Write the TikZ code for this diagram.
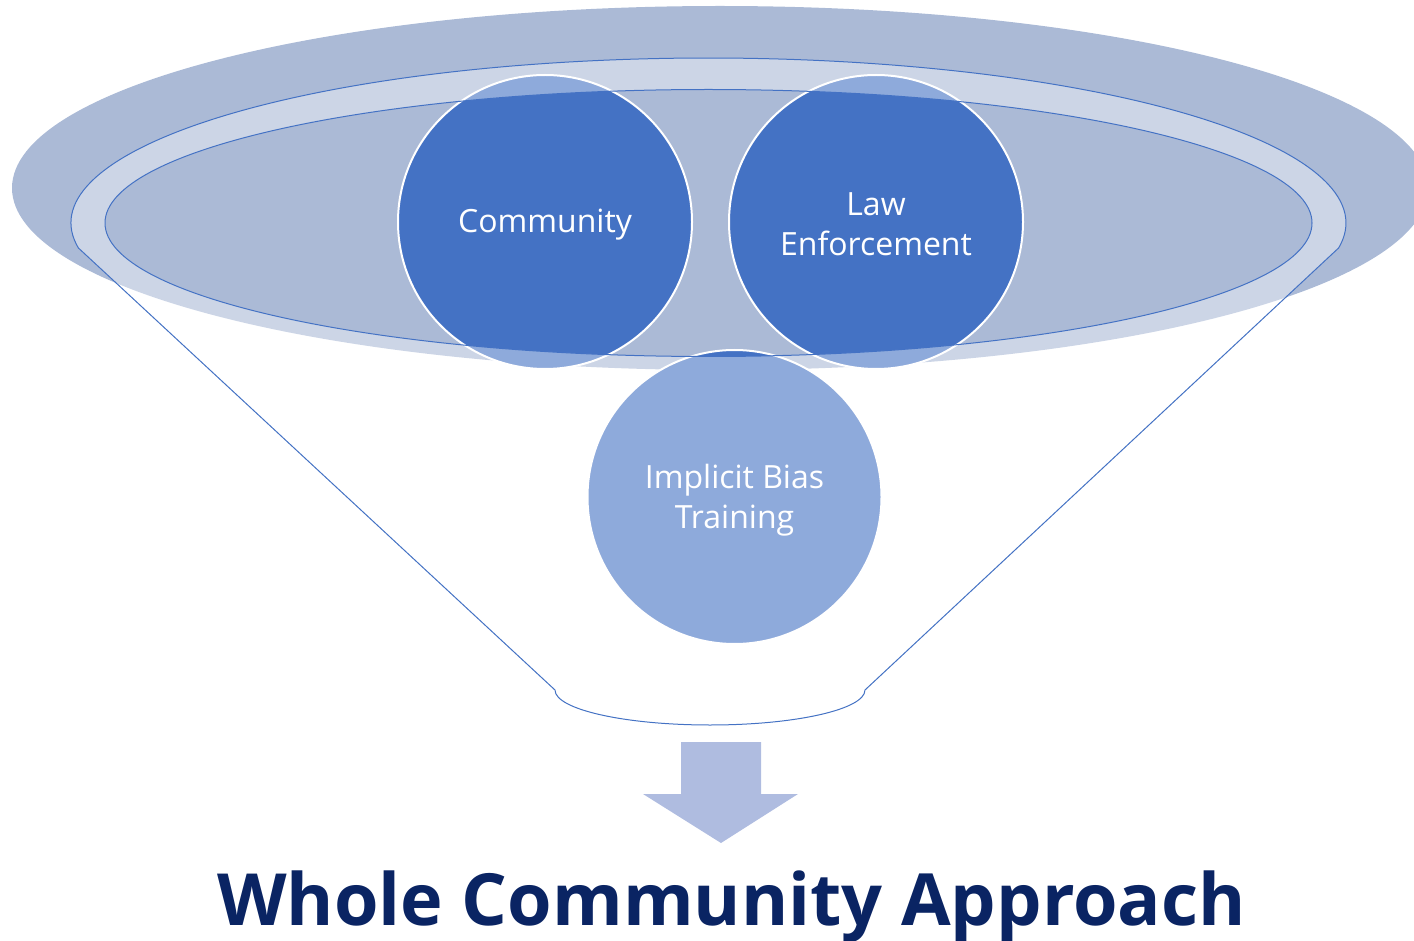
\documentclass[tikz,border=0pt]{standalone}
\usepackage{fontspec}
\setmainfont{Open Sans}
\usetikzlibrary{calc}
\definecolor{bgell}{HTML}{ABBAD6}
\definecolor{accent}{HTML}{4472C4}
\definecolor{arrowc}{HTML}{AFBCE0}
\definecolor{titlec}{HTML}{0A2463}
\begin{document}
\begin{tikzpicture}[x=1pt,y=-1pt,
  bubble/.style={circle, fill=accent, draw=white, line width=2pt, minimum size=294pt,
    inner sep=0pt},
  caption/.style={text=white, align=center, inner sep=0pt, font=\fontsize{32}{40}\selectfont},
  rim/.style={draw=accent, line width=1pt},
  veil/.style={fill=white, fill opacity=0.4, even odd rule},
  downarrow/.style={fill=arrowc}]
\useasboundingbox (0,0) rectangle (1414,941);
% background ellipse
\fill[bgell] (720,188) ellipse [x radius=708, y radius=182];
% circles
\node[bubble] (bias) at (734.5,497) {};
\node[bubble] (comm) at (545,222) {};
\node[bubble] (law) at (876,222) {};
\node[caption] (biastext) at ([yshift=-3pt]bias.center) {Implicit Bias\\Training};
\node[caption] (commtext) at ([yshift=-3pt]comm.center) {Community};
\node[caption] (lawtext) at ([yshift=-2pt]law.center) {Law\\Enforcement};
% funnel geometry
\coordinate (oc) at (708.5,223);
\coordinate (tl) at ($(oc)+(171.3:637.5 and 165)$);
\coordinate (tr) at ($(oc)+(8.7:637.5 and 165)$);
\coordinate (bl) at (555,690);
\coordinate (br) at (865,690);
% translucent funnel body
\path[veil] (tl) arc[start angle=171.3, end angle=368.7, x radius=637.5, y radius=165]
  -- (br) arc[start angle=0, end angle=180, x radius=155, y radius=35] -- cycle
  (oc) ellipse [x radius=603.5, y radius=133.5];
% funnel outlines
\draw[rim] (tl) arc[start angle=171.3, end angle=368.7, x radius=637.5, y radius=165]
  -- (br) arc[start angle=0, end angle=180, x radius=155, y radius=35] -- cycle;
\draw[rim] (oc) ellipse [x radius=603.5, y radius=133.5];
% arrow
\fill[downarrow] (681,742) -- (761,742) -- (761,794) -- (798,794) -- (721,843)
  -- (643,794) -- (681,794) -- cycle;
% title
\node[font=\fontsize{72}{80}\selectfont\bfseries, text=titlec, anchor=base, inner sep=0pt]
  (title) at (731.5,925) {Whole Community Approach};
\end{tikzpicture}
\end{document}
